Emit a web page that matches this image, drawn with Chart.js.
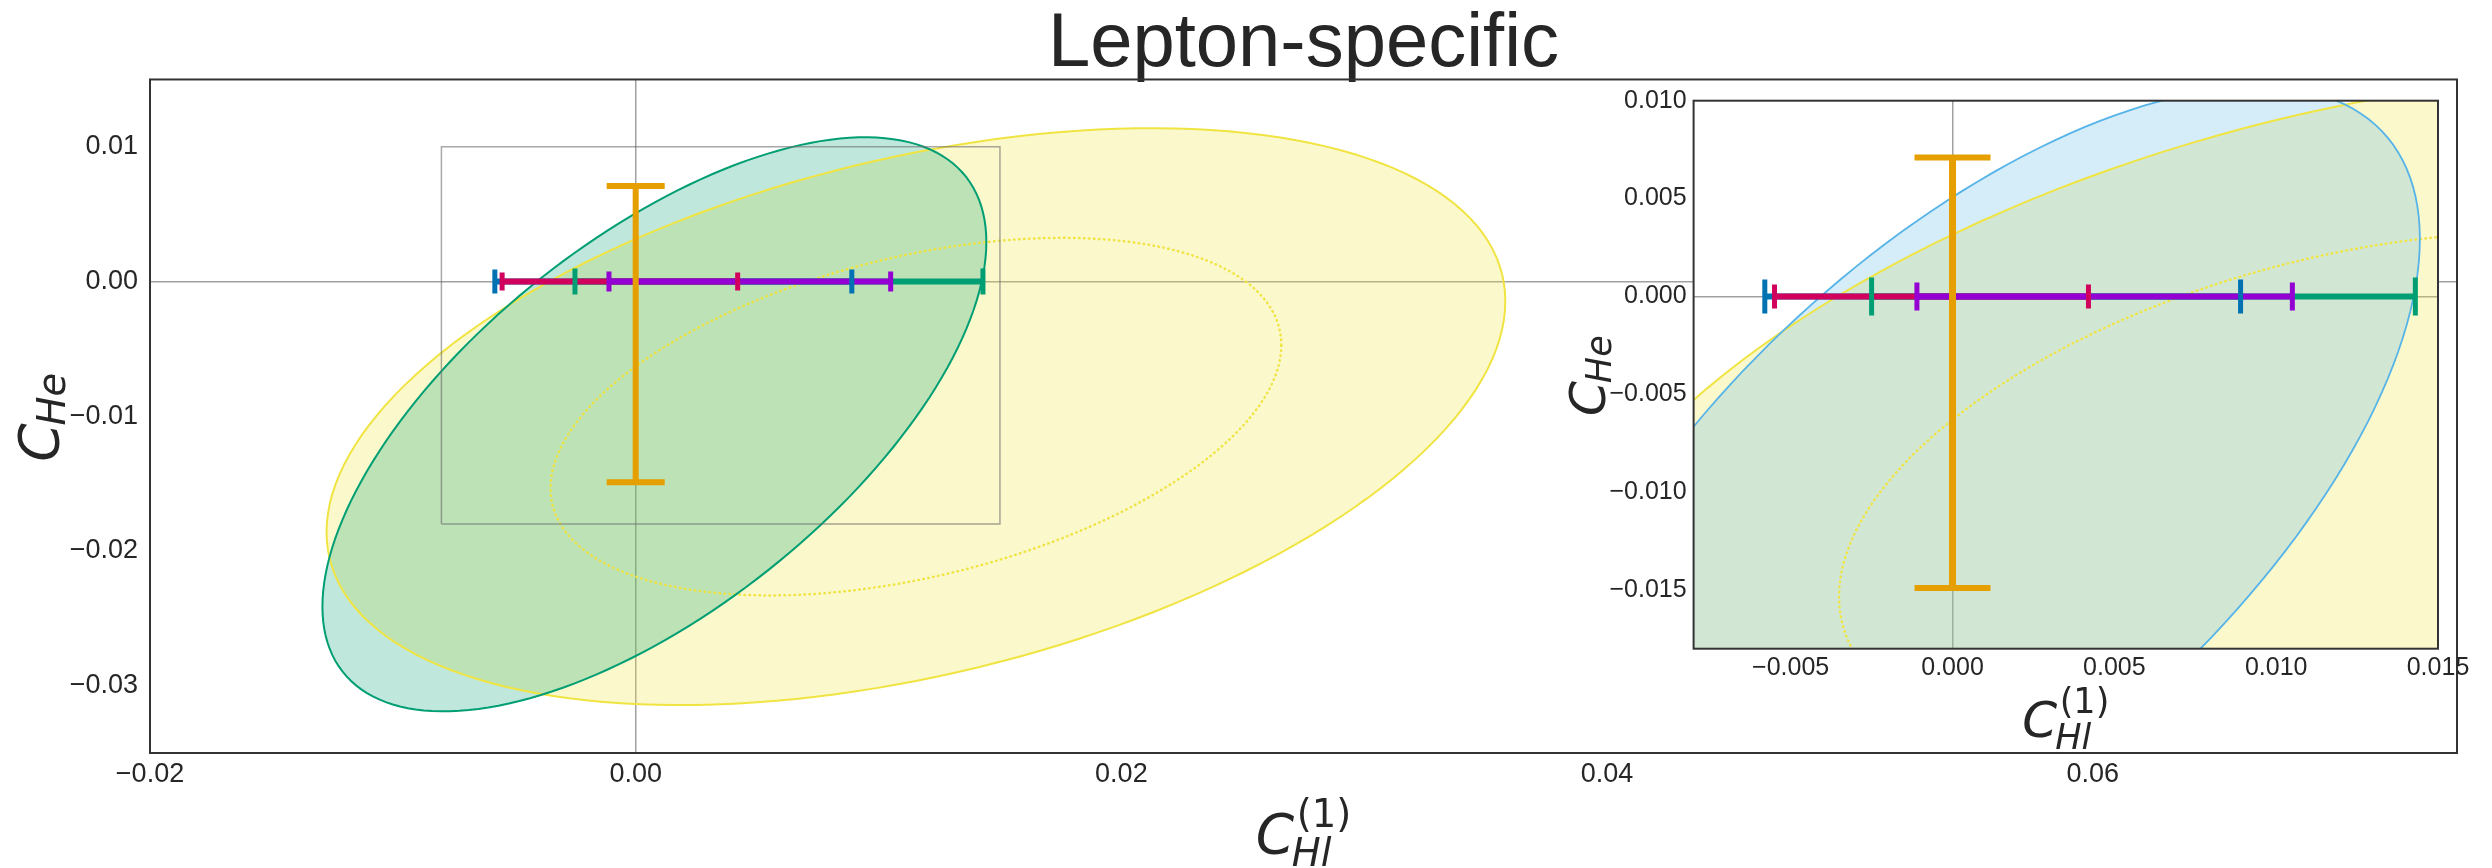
<!DOCTYPE html>
<html lang="en">
<head>
<meta charset="UTF-8" />
<title>Lepton-specific</title>
<script src="https://cdn.jsdelivr.net/npm/chart.js"></script>
<style>
  body { margin: 0; background: #fff; }
  #wrap { position: relative; width: 2492px; height: 868px; }
  #wrap canvas { position: absolute; left: 0; top: 0; }
</style>
</head>
<body>
<div id="wrap">
  <canvas id="mainChart" width="2492" height="868"></canvas>
  <canvas id="insetChart" width="2492" height="868"></canvas>
</div>

<script>
  // axis ranges and tick values
  const mainXRange = [-0.02, 0.075];
  const mainYRange = [-0.035, 0.015];
  const mainXTicks = [-0.02, 0.00, 0.02, 0.04, 0.06];
  const mainYTicks = [-0.03, -0.02, -0.01, 0.00, 0.01];
  const insetXRange = [-0.008, 0.015];
  const insetYRange = [-0.018, 0.010];
  const insetXTicks = [-0.005, 0.000, 0.005, 0.010, 0.015];
  const insetYTicks = [-0.015, -0.010, -0.005, 0.000, 0.005, 0.010];

  // horizontal error bars along C_He = 0 (listed bottom to top)
  const barNames = ['blue', 'green', 'red', 'purple'];
  const barLow  = [-0.0058, -0.0025, -0.0055, -0.0011];
  const barHigh = [ 0.0089,  0.0143,  0.0042,  0.0105];

  // vertical error bar along C_Hl = 0
  const vbarX = 0;
  const vbarLow = -0.0149;
  const vbarHigh = 0.0071;

  // fit ellipses: centre, half extent on each axis, correlation
  const ellNames = ['yellow', 'green'];
  const ellCx = [0.01154, 0.00077];
  const ellCy = [-0.01003, -0.0106];
  const ellSx = [0.02427, 0.01367];
  const ellSy = [0.02141, 0.02131];
  const ellRho = [0.40, 0.635];
  const innerLevel = 0.62;   // dotted inner contour of the yellow fit

  const barColors = { blue: '#0072B2', green: '#009E73', red: '#D1005C', purple: '#9400D3' };
  const vbarColor = '#E69F00';
  const textColor = '#262626';
  const tickFont = 'Liberation Sans, Arial, sans-serif';

  const fmt = (v, d) => {
    const s = Math.abs(v).toFixed(d);
    return v < -1e-12 ? '\u2212' + s : s;
  };

  // ellipses are traced through the chart's own scales
  function makeEllipsePlugin(list) {
    return {
      id: 'ellipses',
      beforeDatasetsDraw(chart) {
        const { ctx, chartArea: a, scales: { x, y } } = chart;
        ctx.save();
        ctx.beginPath();
        ctx.rect(a.left, a.top, a.width, a.height);
        ctx.clip();
        const trace = (e) => {
          const i = e.idx, k = e.level || 1;
          const c = Math.sqrt(1 - ellRho[i] * ellRho[i]);
          ctx.beginPath();
          for (let d = 0; d <= 360; d += 2) {
            const t = d * Math.PI / 180;
            const vx = ellCx[i] + k * ellSx[i] * Math.cos(t);
            const vy = ellCy[i] + k * ellSy[i] * (ellRho[i] * Math.cos(t) + c * Math.sin(t));
            const px = x.getPixelForValue(vx), py = y.getPixelForValue(vy);
            if (d === 0) ctx.moveTo(px, py); else ctx.lineTo(px, py);
          }
          ctx.closePath();
        };
        list.forEach(e => {
          if (!e.fill) return;
          trace(e);
          ctx.fillStyle = e.fill;
          ctx.fill();
        });
        list.forEach(e => {
          trace(e);
          ctx.strokeStyle = e.stroke;
          ctx.lineWidth = e.width;
          ctx.lineCap = e.dash ? 'round' : 'butt';
          ctx.setLineDash(e.dash || []);
          ctx.stroke();
        });
        ctx.restore();
      }
    };
  }

  function makeFramePlugin(white) {
    return {
      id: 'frame',
      beforeDraw(chart) {
        if (!white) return;
        const { ctx, chartArea: a } = chart;
        ctx.save();
        ctx.fillStyle = '#fff';
        ctx.fillRect(a.left, a.top, a.width, a.height);
        ctx.restore();
      },
      afterDraw(chart) {
        const { ctx, chartArea: a } = chart;
        ctx.save();
        ctx.strokeStyle = '#333';
        ctx.lineWidth = 2;
        ctx.strokeRect(a.left, a.top, a.width, a.height);
        ctx.restore();
      }
    };
  }

  // mathtext style axis labels: C_{sub}^{sup}
  function drawMath(ctx, m) {
    const S = m.size, s = S * 0.7;
    const fam = '"DejaVu Sans", sans-serif';
    ctx.save();
    ctx.translate(m.x, m.y);
    if (m.rotate) ctx.rotate(-Math.PI / 2);
    ctx.fillStyle = textColor;
    ctx.textBaseline = 'alphabetic';
    ctx.textAlign = 'left';
    ctx.font = `italic ${S}px ${fam}`;
    const wb = ctx.measureText(m.base).width;
    ctx.font = `italic ${s}px ${fam}`;
    const ws = ctx.measureText(m.sub).width;
    ctx.font = `${s}px ${fam}`;
    const wp = m.sup ? ctx.measureText(m.sup).width + 0.05 * S : 0;
    const x0 = -(wb + Math.max(ws, wp)) / 2;
    ctx.font = `italic ${S}px ${fam}`;
    ctx.fillText(m.base, x0, 0);
    ctx.font = `italic ${s}px ${fam}`;
    ctx.fillText(m.sub, x0 + wb - 0.04 * S, m.subDrop);
    if (m.sup) {
      ctx.font = `${s}px ${fam}`;
      ctx.fillText(m.sup, x0 + wb + 0.05 * S, -m.supRise);
    }
    ctx.restore();
  }

  function makeLabelPlugin(size, xGap, yGap) {
    return {
      id: 'mathLabels',
      afterDraw(chart) {
        const a = chart.chartArea;
        const cx = (a.left + a.right) / 2, cy = (a.top + a.bottom) / 2;
        drawMath(chart.ctx, { base: 'C', sub: 'Hl', sup: '(1)', size,
          x: cx, y: a.bottom + xGap, subDrop: 0.24 * size, supRise: 0.47 * size });
        drawMath(chart.ctx, { base: 'C', sub: 'He', size, rotate: true,
          x: a.left - yGap, y: cy, subDrop: 0.13 * size });
      }
    };
  }

  function buildDatasets(capHalf, vbarWidth, vcapHalf) {
    const sets = [];
    const vdata = [{ x: vbarX, y: vbarLow }, { x: vbarX, y: vbarHigh }];
    sets.push({ data: vdata, showLine: true, borderColor: vbarColor, borderWidth: vbarWidth, pointRadius: 0 });
    sets.push({ data: vdata, showLine: false, pointStyle: 'line', rotation: 0, pointRadius: vcapHalf,
      pointBorderWidth: 6, pointBorderColor: vbarColor, pointBackgroundColor: vbarColor });
    // caps above every bar line, the later bars above the earlier ones
    for (let i = barNames.length - 1; i >= 0; i--) {
      const col = barColors[barNames[i]];
      sets.push({ data: [{ x: barLow[i], y: 0 }, { x: barHigh[i], y: 0 }], showLine: false,
        pointStyle: 'line', rotation: 90, pointRadius: capHalf[barNames[i]],
        pointBorderWidth: 5, pointBorderColor: col, pointBackgroundColor: col });
    }
    for (let i = barNames.length - 1; i >= 0; i--) {
      sets.push({ data: [{ x: barLow[i], y: 0 }, { x: barHigh[i], y: 0 }], showLine: true,
        borderColor: barColors[barNames[i]], borderWidth: 6, pointRadius: 0 });
    }
    return sets;
  }

  const zeroGrid = {
    color: c => (c.tick && Math.abs(c.tick.value) < 1e-12) ? 'rgba(150,150,150,0.9)' : 'rgba(0,0,0,0)',
    lineWidth: 1.5,
    drawTicks: false
  };

  function makeScales(xr, yr, xt, yt, xd, yd, fontSize, yWidth, xHeight, xPad, yPad) {
    return {
      x: {
        type: 'linear', min: xr[0], max: xr[1],
        afterBuildTicks: s => { s.ticks = xt.map(v => ({ value: v })); },
        afterFit: s => { s.height = xHeight; },
        grid: zeroGrid,
        border: { display: false },
        ticks: { autoSkip: false, maxRotation: 0, padding: xPad, color: textColor,
          font: { family: tickFont, size: fontSize }, callback: v => fmt(v, xd) }
      },
      y: {
        type: 'linear', min: yr[0], max: yr[1],
        afterBuildTicks: s => { s.ticks = yt.map(v => ({ value: v })); },
        afterFit: s => { s.width = yWidth; },
        grid: zeroGrid,
        border: { display: false },
        ticks: { autoSkip: false, padding: yPad, color: textColor,
          font: { family: tickFont, size: fontSize }, callback: v => fmt(v, yd) }
      }
    };
  }

  const yellowFill = 'rgba(240,228,66,0.27)';
  const yellowLine = '#F0E442';
  const dotted = [0.5, 4.5];

  // main panel
  const mainSets = buildDatasets({ blue: 12, green: 13, red: 9, purple: 10 }, 6, 29);
  mainSets.push({
    data: [
      { x: insetXRange[0], y: insetYRange[0] }, { x: insetXRange[1], y: insetYRange[0] },
      { x: insetXRange[1], y: insetYRange[1] }, { x: insetXRange[0], y: insetYRange[1] },
      { x: insetXRange[0], y: insetYRange[0] }
    ],
    showLine: true, borderColor: 'rgba(110,110,110,0.6)', borderWidth: 1.5, pointRadius: 0
  });

  new Chart(document.getElementById('mainChart'), {
    type: 'scatter',
    data: { datasets: mainSets },
    options: {
      responsive: false,
      animation: false,
      events: [],
      layout: { padding: { left: 0, right: 34, top: 0, bottom: 0 } },
      plugins: {
        legend: { display: false },
        tooltip: { enabled: false },
        title: {
          display: true, text: 'Lepton-specific', color: textColor, fullSize: false,
          font: { family: tickFont, size: 76, weight: 'normal', lineHeight: 0.901 },
          padding: { top: 11, bottom: 0 }
        }
      },
      scales: makeScales(mainXRange, mainYRange, mainXTicks, mainYTicks, 2, 2, 27, 150, 115, 5, 12)
    },
    plugins: [
      makeEllipsePlugin([
        { idx: 0, fill: yellowFill, stroke: yellowLine, width: 2 },
        { idx: 0, level: innerLevel, stroke: yellowLine, width: 2.5, dash: dotted },
        { idx: 1, fill: 'rgba(0,158,115,0.25)', stroke: '#009E73', width: 2 }
      ]),
      makeFramePlugin(false),
      makeLabelPlugin(55, 100, 92)
    ]
  });

  // zoomed inset panel
  new Chart(document.getElementById('insetChart'), {
    type: 'scatter',
    data: { datasets: buildDatasets({ blue: 17, green: 19, red: 12, purple: 14 }, 7, 38) },
    options: {
      responsive: false,
      animation: false,
      events: [],
      layout: { padding: { left: 1593.6, right: 54, top: 100.7, bottom: 159.3 } },
      plugins: {
        legend: { display: false },
        tooltip: { enabled: false }
      },
      scales: makeScales(insetXRange, insetYRange, insetXTicks, insetYTicks, 3, 3, 25, 100, 60, 4, 7)
    },
    plugins: [
      makeEllipsePlugin([
        { idx: 0, fill: yellowFill, stroke: yellowLine, width: 2 },
        { idx: 0, level: innerLevel, stroke: yellowLine, width: 2.5, dash: dotted },
        { idx: 1, fill: 'rgba(86,180,233,0.25)', stroke: '#56B4E9', width: 1.8 }
      ]),
      makeFramePlugin(true),
      makeLabelPlugin(50, 88, 89)
    ]
  });
</script>

</body>
</html>
